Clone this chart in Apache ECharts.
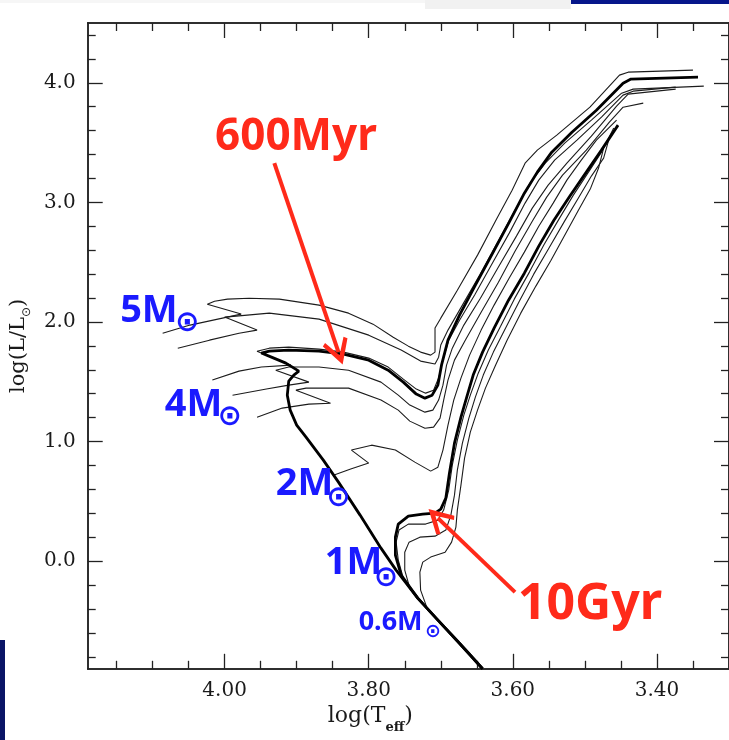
<!DOCTYPE html>
<html><head><meta charset="utf-8">
<script src="https://cdn.jsdelivr.net/npm/echarts@6/dist/echarts.min.js"></script>
<style>html,body{margin:0;padding:0;background:#fff}#c{width:729px;height:740px}</style>
</head><body><div id="c"></div><script>
// ---- axis ranges & ticks ----
const X_MIN = 3.30, X_MAX = 4.19, Y_MIN = -0.9, Y_MAX = 4.5;
const xMajor = [3.4, 3.6, 3.8, 4.0];
const xMinor = [3.35, 3.45, 3.5, 3.55, 3.65, 3.7, 3.75, 3.85, 3.9, 3.95, 4.05, 4.1, 4.15];
const yMajor = [0, 1, 2, 3, 4];
const yMinor = [-0.8, -0.6, -0.4, -0.2, 0.2, 0.4, 0.6, 0.8, 1.2, 1.4, 1.6, 1.8, 2.2, 2.4, 2.6, 2.8, 3.2, 3.4, 3.6, 3.8, 4.2, 4.4];

// ---- isochrones [log Teff, log L/Lsun] ----
const isoA = [[4.086,1.906],[4.048,1.974],[4.003,2.032],[3.977,2.066],[4.024,2.149],[4.014,2.174],[3.996,2.191],[3.966,2.199],[3.924,2.191],[3.869,2.141],[3.828,2.074],[3.794,1.982],[3.766,1.873],[3.745,1.798],[3.728,1.748],[3.714,1.723],[3.708,1.748],[3.708,1.848],[3.708,1.949],[3.700,2.032],[3.677,2.266],[3.649,2.559],[3.622,2.868],[3.601,3.102],[3.583,3.328],[3.566,3.437],[3.539,3.562],[3.493,3.796],[3.452,4.064],[3.440,4.089],[3.350,4.106]];
const isoB = [[4.065,1.781],[4.021,1.848],[3.980,1.906],[3.955,1.932],[4.000,2.041],[3.984,2.049],[3.938,2.074],[3.869,2.024],[3.800,1.890],[3.755,1.765],[3.728,1.673],[3.708,1.648],[3.703,1.706],[3.700,1.807],[3.690,1.932],[3.670,2.141],[3.646,2.392],[3.622,2.659],[3.597,2.935],[3.576,3.161],[3.555,3.328],[3.528,3.495],[3.491,3.688],[3.449,3.913],[3.433,3.947],[3.335,3.972]];
const isoC = [[4.017,1.514],[3.980,1.589],[3.949,1.623],[3.908,1.639],[3.955,1.756],[3.938,1.781],[3.911,1.790],[3.869,1.773],[3.835,1.748],[3.800,1.698],[3.773,1.623],[3.752,1.522],[3.734,1.439],[3.721,1.405],[3.710,1.430],[3.703,1.531],[3.697,1.681],[3.689,1.848],[3.674,2.015],[3.653,2.225],[3.630,2.475],[3.605,2.743],[3.583,2.994],[3.564,3.186],[3.542,3.353],[3.511,3.521],[3.477,3.713],[3.447,3.897],[3.433,3.930],[3.374,3.964]];
const isoE = [[3.989,1.388],[3.942,1.439],[3.911,1.472],[3.883,1.497],[3.929,1.597],[3.911,1.623],[3.869,1.623],[3.828,1.597],[3.783,1.497],[3.759,1.388],[3.743,1.305],[3.722,1.246],[3.711,1.263],[3.703,1.347],[3.697,1.472],[3.692,1.639],[3.684,1.781],[3.668,1.974],[3.645,2.199],[3.620,2.459],[3.595,2.718],[3.573,2.952],[3.551,3.144],[3.525,3.328],[3.491,3.554],[3.456,3.805],[3.440,3.905],[3.374,3.947]];
const isoF = [[3.955,1.204],[3.920,1.280],[3.883,1.313],[3.853,1.321],[3.901,1.430],[3.887,1.447],[3.828,1.447],[3.783,1.347],[3.759,1.263],[3.743,1.171],[3.722,1.112],[3.710,1.121],[3.701,1.196],[3.696,1.347],[3.690,1.514],[3.681,1.681],[3.666,1.848],[3.644,2.082],[3.620,2.333],[3.597,2.592],[3.573,2.843],[3.553,3.044],[3.531,3.228],[3.498,3.437],[3.466,3.671],[3.447,3.796],[3.419,3.830]];
const isoG = [[3.849,0.719],[3.825,0.770],[3.800,0.820],[3.824,0.929],[3.796,0.970],[3.763,0.929],[3.736,0.828],[3.714,0.753],[3.704,0.786],[3.697,0.929],[3.690,1.138],[3.682,1.347],[3.672,1.531],[3.660,1.723],[3.644,1.932],[3.626,2.141],[3.605,2.367],[3.584,2.584],[3.564,2.801],[3.544,2.994],[3.525,3.186],[3.505,3.353],[3.484,3.521],[3.456,3.688]];
const iso600Myr = [[3.642,-0.90],[3.663,-0.760],[3.677,-0.668],[3.704,-0.493],[3.732,-0.309],[3.762,-0.075],[3.783,0.109],[3.812,0.385],[3.842,0.661],[3.863,0.845],[3.887,1.037],[3.900,1.138],[3.909,1.263],[3.913,1.388],[3.911,1.506],[3.904,1.556],[3.897,1.589],[3.915,1.656],[3.935,1.706],[3.949,1.740],[3.938,1.756],[3.911,1.765],[3.869,1.756],[3.835,1.731],[3.800,1.681],[3.773,1.597],[3.752,1.497],[3.734,1.397],[3.722,1.363],[3.712,1.388],[3.704,1.472],[3.699,1.639],[3.690,1.848],[3.674,2.057],[3.652,2.308],[3.628,2.576],[3.605,2.835],[3.584,3.077],[3.566,3.253],[3.546,3.420],[3.518,3.587],[3.484,3.771],[3.447,3.997],[3.436,4.031],[3.343,4.047]];
const iso10Gyr = [[3.642,-0.90],[3.663,-0.760],[3.677,-0.668],[3.704,-0.493],[3.732,-0.309],[3.755,-0.117],[3.763,0.050],[3.763,0.201],[3.759,0.310],[3.745,0.377],[3.725,0.393],[3.708,0.402],[3.700,0.435],[3.693,0.527],[3.688,0.736],[3.681,0.987],[3.672,1.204],[3.664,1.372],[3.655,1.556],[3.642,1.748],[3.626,1.949],[3.606,2.182],[3.584,2.408],[3.564,2.634],[3.543,2.851],[3.521,3.052],[3.498,3.253],[3.477,3.437],[3.454,3.646]];
const oldB = [[3.642,-0.90],[3.663,-0.760],[3.677,-0.668],[3.704,-0.493],[3.732,-0.309],[3.752,-0.142],[3.759,0.009],[3.762,0.159],[3.758,0.260],[3.745,0.310],[3.721,0.310],[3.704,0.343],[3.696,0.427],[3.689,0.594],[3.684,0.803],[3.677,1.012],[3.668,1.221],[3.659,1.388],[3.648,1.572],[3.634,1.765],[3.617,1.965],[3.598,2.191],[3.577,2.417],[3.557,2.643],[3.536,2.860],[3.516,3.061],[3.495,3.253],[3.477,3.420],[3.460,3.621]];
const oldC = [[3.642,-0.90],[3.663,-0.760],[3.677,-0.668],[3.704,-0.493],[3.725,-0.351],[3.743,-0.225],[3.750,-0.075],[3.750,0.075],[3.744,0.159],[3.729,0.201],[3.708,0.209],[3.693,0.260],[3.686,0.385],[3.681,0.552],[3.677,0.761],[3.670,0.987],[3.661,1.196],[3.652,1.372],[3.641,1.556],[3.627,1.748],[3.610,1.949],[3.591,2.174],[3.571,2.400],[3.550,2.617],[3.529,2.835],[3.509,3.036],[3.491,3.220],[3.474,3.370],[3.467,3.521]];
const oldD = [[3.642,-0.90],[3.663,-0.760],[3.677,-0.668],[3.704,-0.493],[3.718,-0.409],[3.728,-0.242],[3.729,-0.092],[3.725,-0.008],[3.714,0.034],[3.694,0.075],[3.685,0.159],[3.679,0.285],[3.677,0.427],[3.672,0.636],[3.667,0.862],[3.659,1.079],[3.649,1.263],[3.638,1.447],[3.624,1.639],[3.608,1.848],[3.589,2.074],[3.568,2.300],[3.547,2.517],[3.528,2.726],[3.509,2.935],[3.492,3.119],[3.481,3.287],[3.474,3.454]];

// ---- annotations ----
const ageLabels = ['600Myr', '10Gyr'];
const ageLabelPos = [[3.901, 3.546], [3.493, -0.367]];
const ageLabelSize = [44, 50];
const arrow600 = [[3.931, 3.328], [3.842, 1.748]];
const arrow10G = [[3.597, -0.259], [3.704, 0.360]];
const massLabels = ['5M', '4M', '2M', '1M', '0.6M'];
const massLabelPos = [[4.145, 2.091], [4.083, 1.305], [3.929, 0.644], [3.861, -0.016], [3.814, -0.510]];
const massLabelSize = [38, 38, 38, 38, 27];
const sunPos = [[4.052, 1.990], [3.993, 1.204], [3.842, 0.527], [3.776, -0.142], [3.711, -0.593]];
const sunSize = [29, 29, 29, 29, 19];

const RED = '#ff2a1a', BLUE = '#1a1aff';
const tickFont = { fontFamily: 'DejaVu Serif', fontSize: 20, color: '#1a1a1a' };
const axisLineStyle = { color: '#222', width: 1.5 };

function xAx(pos, vals, len, labels) {
  return {
    type: 'value', position: pos, min: X_MIN, max: X_MAX, inverse: true,
    axisLine: { show: true, onZero: false, lineStyle: axisLineStyle },
    splitLine: { show: false },
    axisTick: { show: true, inside: true, length: len, customValues: vals, lineStyle: { color: '#222', width: 1.3 } },
    axisLabel: labels ? Object.assign({ show: true, customValues: vals, margin: 12, formatter: v => v.toFixed(2) }, tickFont) : { show: false }
  };
}
function yAx(pos, vals, len, labels) {
  return {
    type: 'value', position: pos, min: Y_MIN, max: Y_MAX,
    axisLine: { show: true, onZero: false, lineStyle: axisLineStyle },
    splitLine: { show: false },
    axisTick: { show: true, inside: true, length: len, customValues: vals, lineStyle: { color: '#222', width: 1.3 } },
    axisLabel: labels ? Object.assign({ show: true, customValues: vals, margin: 12, formatter: v => v.toFixed(1) }, tickFont) : { show: false }
  };
}

const xAxes = [xAx('bottom', xMajor, 15, true), xAx('bottom', xMinor, 8, false), xAx('top', xMajor, 15, false), xAx('top', xMinor, 8, false)];
xAxes[0].name = '{a|log(T}{b|eff}{a|)}';
xAxes[0].nameLocation = 'middle';
xAxes[0].nameGap = 32;
xAxes[0].nameTextStyle = { padding: [0, 76, 0, 0], rich: {
  a: { fontFamily: 'DejaVu Serif', fontSize: 22, color: '#1a1a1a' },
  b: { fontFamily: 'DejaVu Serif', fontSize: 13, fontWeight: 'bold', color: '#1a1a1a', verticalAlign: 'bottom', padding: [0, 0, -6, 0] } } };
const yAxes = [yAx('left', yMajor, 15, true), yAx('left', yMinor, 8, false), yAx('right', yMajor, 15, false), yAx('right', yMinor, 8, false)];
yAxes[0].name = '{a|log(L/L}{b|⊙}{a|)}';
yAxes[0].nameLocation = 'middle';
yAxes[0].nameGap = 52;
yAxes[0].nameTextStyle = { rich: {
  a: { fontFamily: 'DejaVu Serif', fontSize: 21, color: '#1a1a1a' },
  b: { fontFamily: 'DejaVu Sans', fontSize: 12, color: '#1a1a1a', verticalAlign: 'bottom', padding: [0, 0, -4, 0] } } };

function curve(name, data, w) {
  return { name, type: 'line', xAxisIndex: 0, yAxisIndex: 0, data, showSymbol: false, symbol: 'none',
    smooth: false, clip: true, silent: true, lineStyle: { color: w > 2 ? '#000' : '#1c1c1c', width: w }, z: w > 2 ? 4 : 3 };
}
const thin = 1.1, thick = 2.8;
const chevron = 'path://M0,0 L12,17 L9,19 L0,7 L-9,19 L-12,17 Z';

function textSeries(data, label) {
  return { type: 'scatter', symbolSize: 0, silent: true, z: 7, itemStyle: { opacity: 1 },
    emphasis: { disabled: true }, data, label: Object.assign({ show: true, opacity: 1 }, label) };
}

const series = [
  curve('isoA', isoA, thin), curve('isoB', isoB, thin), curve('isoC', isoC, thin),
  curve('isoE', isoE, thin), curve('isoF', isoF, thin), curve('isoG', isoG, thin),
  curve('oldB', oldB, thin), curve('oldC', oldC, thin), curve('oldD', oldD, thin),
  curve('600Myr', iso600Myr, thick), curve('10Gyr', iso10Gyr, thick),
  { type: 'line', data: [], silent: true, markLine: { silent: true, symbol: ['none', chevron], symbolSize: [26, 26],
      label: { show: false }, lineStyle: { color: RED, width: 4, type: 'solid', opacity: 1 },
      data: [[{ coord: arrow600[0] }, { coord: arrow600[1] }], [{ coord: arrow10G[0] }, { coord: arrow10G[1] }]] }, z: 6 },
  textSeries(ageLabels.map((t, i) => ({ value: ageLabelPos[i], name: t, label: { fontSize: ageLabelSize[i] } })),
    { position: 'inside', formatter: p => p.name, color: RED, fontFamily: 'Noto Sans', fontWeight: 'bold' }),
  textSeries(massLabels.map((t, i) => ({ value: massLabelPos[i], name: t, label: { fontSize: massLabelSize[i] } })),
    { position: 'right', distance: 0, align: 'left', verticalAlign: 'middle', formatter: p => p.name, color: BLUE, fontFamily: 'Noto Sans', fontWeight: 'bold' }),
  textSeries(sunPos.map((p, i) => ({ value: p, name: '⊙', label: { fontSize: sunSize[i] } })),
    { position: 'inside', formatter: '⊙', color: BLUE, fontFamily: 'DejaVu Sans', fontWeight: 'bold' })
];

const chart = echarts.init(document.getElementById('c'), null, { renderer: 'canvas' });
chart.setOption({
  animation: false,
  backgroundColor: '#fff',
  grid: { left: 87, top: 23, width: 646.1, height: 645.8 },
  xAxis: xAxes,
  yAxis: yAxes,
  series,
  graphic: [
    { type: 'rect', shape: { x: 571, y: 0, width: 158, height: 4 }, style: { fill: '#06168a' }, silent: true },
    { type: 'rect', shape: { x: 425, y: 0, width: 146, height: 9 }, style: { fill: '#f1f1f1' }, silent: true },
    { type: 'rect', shape: { x: 0, y: 0, width: 425, height: 3 }, style: { fill: '#f6f6f6' }, silent: true },
    { type: 'rect', shape: { x: 0, y: 640, width: 5, height: 100 }, style: { fill: '#0a1466' }, silent: true }
  ]
});
</script></body></html>
